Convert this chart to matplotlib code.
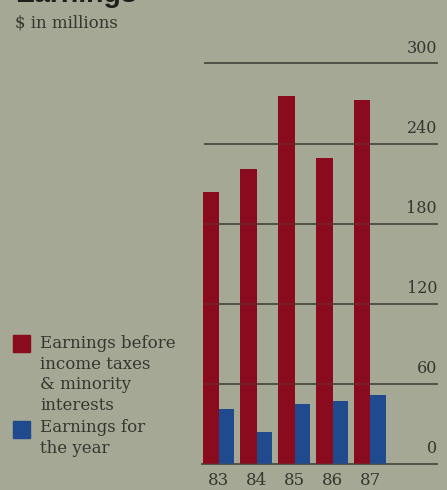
import numpy as np
import matplotlib
matplotlib.use("Agg")
from matplotlib import pyplot as plt
from matplotlib.patches import Rectangle

years = ["83", "84", "85", "86", "87"]
pretax = [204, 221, 276, 229, 273]  # Earnings before income taxes & minority interests
net = [41, 24, 45, 47, 52]  # Earnings for the year
yticks = [0, 60, 120, 180, 240, 300]

bg = "#a5a894"
red = "#8a0a1e"
blue = "#1f4a8e"
ink = "#35362f"
grid = "#4f5247"

plt.rcParams["font.family"] = ["DejaVu Serif"]

W, H = 447, 490
fig = plt.figure(figsize=(W / 100, H / 100), dpi=100, facecolor=bg)

# 坐标轴区域（像素）
left, right, bottom, top = 202, 437, 464, 63.5
ax = fig.add_axes([left / W, 1 - bottom / H, (right - left) / W, (bottom - top) / H])
ax.set_facecolor("none")

x = np.arange(len(years))
ax.bar(x - 0.42, pretax, width=0.43, align="edge", color=red, zorder=2)
ax.bar(x + 0.01, net, width=0.40, align="edge", color=blue, zorder=2)

ax.set_xlim(-0.435, 5.765)
ax.set_ylim(0, 300)

for v in yticks:
    xmin = 0 if v == 0 else 3 / (right - left)
    ax.axhline(v, xmin=xmin, xmax=1, color=grid, lw=1.4, zorder=1, clip_on=False)
    ax.axhline(v, xmin=xmin, xmax=1, color=grid, lw=1.4, alpha=0.3, zorder=3, clip_on=False)
    ax.annotate(str(v), xy=(1, v), xycoords=("axes fraction", "data"),
                xytext=(0, 5), textcoords="offset points",
                ha="right", va="bottom", fontsize=11.5, color=ink)

ax.set_xticks(x, years)
ax.tick_params(axis="x", length=0, pad=6, labelsize=12, labelcolor=ink)
ax.set_yticks([])
for s in ax.spines.values():
    s.set_visible(False)

# 标题（顶部被裁掉）
fig.text(15 / W, 1 - 2.5 / H, "Earnings", family="Liberation Sans", weight="bold",
         fontsize=20.5, color="#1e1f1b", ha="left", va="baseline")
fig.text(15 / W, 1 - 28 / H, "$ in millions", fontsize=12, color=ink,
         ha="left", va="baseline")

# 图例
fig.patches.append(Rectangle((13 / W, 1 - 352 / H), 17 / W, 17 / H,
                             transform=fig.transFigure, color=red))
fig.patches.append(Rectangle((13 / W, 1 - 438 / H), 17 / W, 17 / H,
                             transform=fig.transFigure, color=blue))
lines = ["Earnings before", "income taxes", "& minority", "interests",
         "Earnings for", "the year"]
bases = [348, 369, 389, 410, 432, 453]
for t, b in zip(lines, bases):
    fig.text(40 / W, 1 - b / H, t, fontsize=12, color=ink, ha="left", va="baseline")

fig.savefig("out.png", dpi=100, facecolor=bg)
